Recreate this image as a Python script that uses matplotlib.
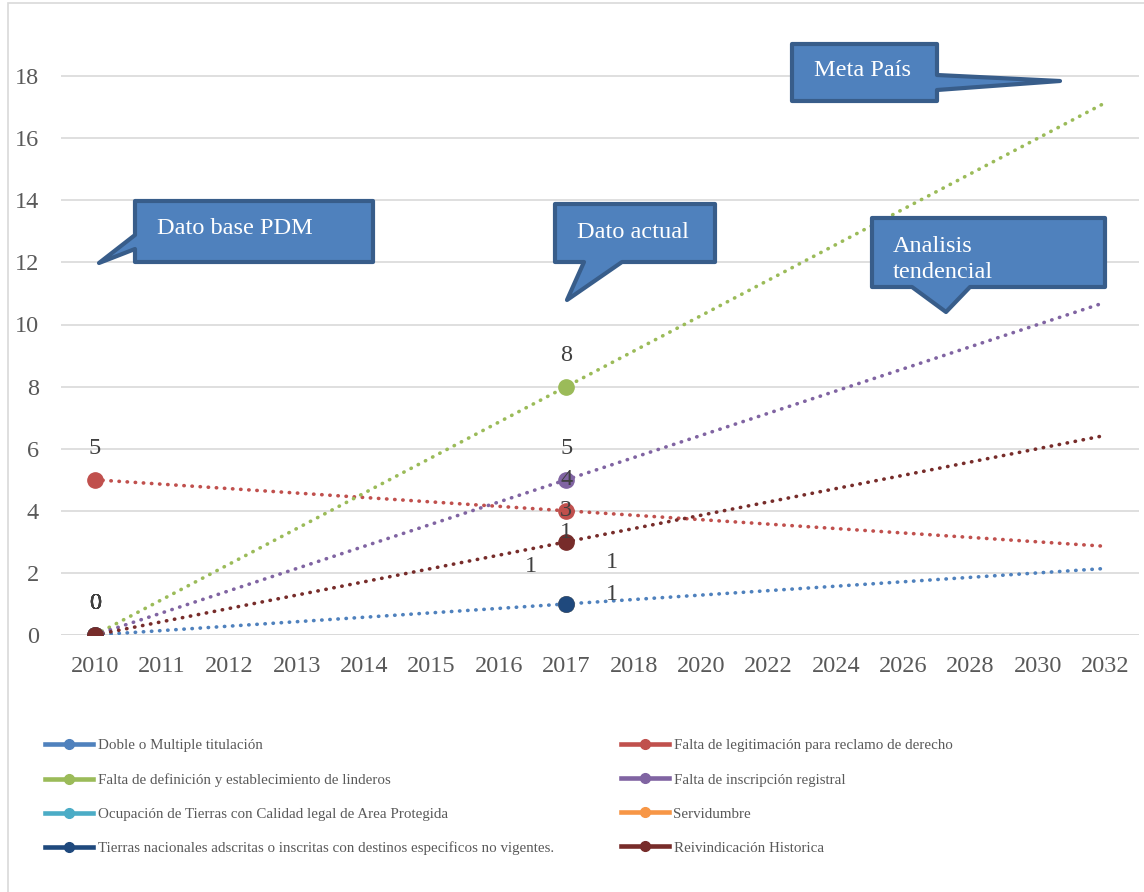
import matplotlib
matplotlib.use("Agg")
import matplotlib.pyplot as plt
import numpy as np
from matplotlib.patches import Polygon, Rectangle
from matplotlib.lines import Line2D

# ---------------- data ----------------
categories = ["2010", "2011", "2012", "2013", "2014", "2015", "2016", "2017",
              "2018", "2020", "2022", "2024", "2026", "2028", "2030", "2032"]
obs_years = ["2010", "2017"]

series_names = [
    "Doble o Multiple titulación",
    "Falta de legitimación para reclamo de derecho",
    "Falta de definición y establecimiento de linderos",
    "Falta de inscripción registral",
    "Ocupación de Tierras con Calidad legal de Area Protegida",
    "Servidumbre",
    "Tierras nacionales adscritas o inscritas con destinos especificos no vigentes.",
    "Reivindicación Historica",
]
doble = [0, 1]
legitimacion = [5, 4]
definicion = [0, 8]
inscripcion = [0, 5]
ocupacion = [0, 1]
servidumbre = [0, 1]
tierras = [0, 1]
reivindicacion = [0, 3]
series_values = [doble, legitimacion, definicion, inscripcion,
                 ocupacion, servidumbre, tierras, reivindicacion]
# series that carry a linear trend line
trend_series = [0, 1, 2, 3, 7]

# ---------------- style ----------------
colors = ["#4F81BD", "#C0504D", "#9BBB59", "#8064A2",
          "#4BACC6", "#F79646", "#1F497D", "#772C2A"]
FONT = "Liberation Serif"
W, H = 1144, 892

# label offsets (dx in category units, dy in value units) per series for the 2017 point
label_offsets_2017 = {0: (-0.52, 1.22), 4: (0.67, 1.32), 5: (0.67, 0.32), 6: (0.0, 2.3)}

fig = plt.figure(figsize=(W / 100, H / 100), dpi=100)
fig.patch.set_facecolor("white")

def fx(x):
    return x / W

def fy(y):
    return 1 - y / H

ax = fig.add_axes([fx(61), fy(635), (1139 - 61) / W, (635 - 14) / H])
ax.set_xlim(-0.5, len(categories) - 0.5)
ax.set_ylim(0, 20)
ax.set_yticks(np.arange(0, 19, 2))
ax.set_xticks(range(len(categories)))
ax.set_xticklabels(categories)
for s in ax.spines.values():
    s.set_visible(False)
ax.grid(axis="y", color="#D9D9D9", lw=1.2)
ax.set_axisbelow(True)
ax.tick_params(length=0, labelsize=17.5, labelcolor="#595959")
ax.tick_params(axis="x", pad=15)
ax.tick_params(axis="y", pad=16)
for lab in ax.get_xticklabels() + ax.get_yticklabels():
    lab.set_fontfamily(FONT)
ax.axhline(0, color="#D9D9D9", lw=1.2, zorder=1)

xi = np.array([categories.index(y) for y in obs_years], dtype=float)

# trend lines (Excel linear trend on category index)
for i in trend_series:
    vals = np.array(series_values[i], dtype=float)
    slope, intercept = np.polyfit(xi, vals, 1)
    xt = np.array([0, len(categories) - 1], dtype=float)
    ax.plot(xt, slope * xt + intercept, color=colors[i], lw=2.6,
            linestyle=(0, (0.1, 2.15)), dash_capstyle="round", zorder=2)

# markers
for i, vals in enumerate(series_values):
    ax.plot(xi, vals, linestyle="none", marker="o", markersize=11,
            color=colors[i], zorder=3 + i * 0.01)

# data labels
for i, vals in enumerate(series_values):
    for j, v in enumerate(vals):
        dx, dy = (0.0, 1.0)
        if j == 1 and i in label_offsets_2017:
            dx, dy = label_offsets_2017[i]
        ax.text(xi[j] + dx, v + dy, f"{v}", ha="center", va="center",
                fontsize=17.5, color="#404040", fontfamily=FONT, zorder=5)

# legend (two columns as two legends)
handles = [Line2D([], [], color=c, lw=3.3, marker="o", markersize=7) for c in colors]
left_idx = [0, 2, 4, 6]
right_idx = [1, 3, 5, 7]
for idxs, xpos in ((left_idx, 45), (right_idx, 621)):
    lg = fig.legend([handles[k] for k in idxs], [series_names[k] for k in idxs],
                    loc="upper left", bbox_to_anchor=(fx(xpos), fy(739)),
                    frameon=False, borderpad=0, borderaxespad=0,
                    handlelength=3.2, handletextpad=0.3, labelspacing=1.37,
                    prop={"family": FONT, "size": 10.8})
    for t in lg.get_texts():
        t.set_color("#595959")

# outer chart border
fig.patches.append(Rectangle((fx(8), fy(1000)), fx(1200), fy(3) - fy(1000),
                             transform=fig.transFigure, fill=False,
                             edgecolor="#D9D9D9", lw=1.2))

# callouts
def callout(x0, y0, x1, y1, edge, a, b, tip):
    pts = [(x0, y0), (x1, y0)]
    if edge == "right":
        pts += [(x1, a), tip, (x1, b)]
    pts += [(x1, y1)]
    if edge == "bottom":
        pts += [(b, y1), tip, (a, y1)]
    pts += [(x0, y1)]
    if edge == "left":
        pts += [(x0, b), tip, (x0, a)]
    poly = Polygon([(fx(px), fy(py)) for px, py in pts], closed=True,
                   transform=fig.transFigure, facecolor="#4F81BD",
                   edgecolor="#385D8A", lw=3, joinstyle="round", zorder=10)
    fig.patches.append(poly)

callout(135, 201, 373, 262, "left", 235, 249, (99, 263))
callout(555, 204, 715, 262, "bottom", 584, 622, (567, 300))
callout(792, 44, 937, 101, "right", 75, 90, (1060, 81))
callout(872, 218, 1105, 287, "bottom", 912, 970, (946, 312))

def ctext(x, y, s):
    fig.text(fx(x), fy(y), s, ha="left", va="center", color="white",
             fontsize=17.5, fontfamily=FONT, zorder=11)

ctext(157, 229, "Dato base PDM")
ctext(577, 233, "Dato actual")
ctext(814, 71, "Meta País")
ctext(893, 246, "Analisis")
ctext(893, 273, "tendencial")

fig.savefig("out.png", dpi=100)
